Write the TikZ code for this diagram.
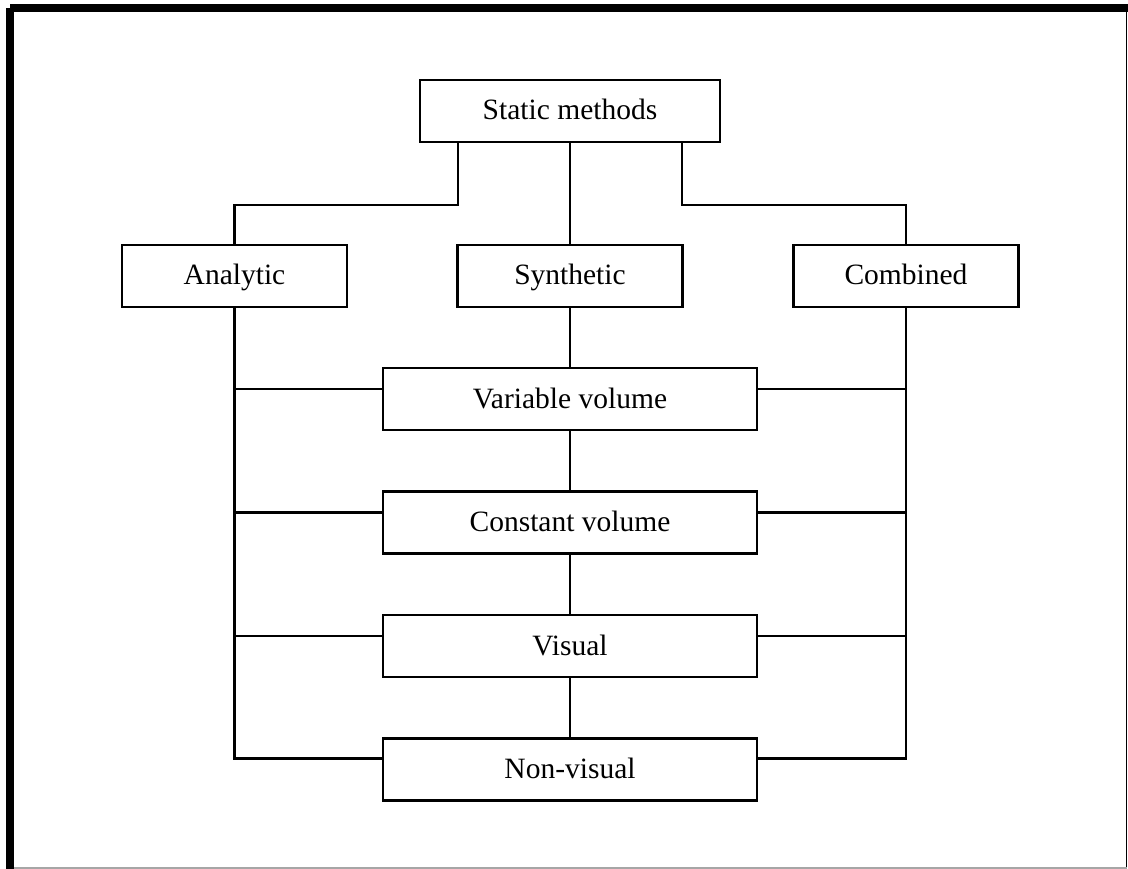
\documentclass[tikz,border=0pt]{standalone}
\usepackage{fontspec}
\setmainfont{Liberation Serif}
\usetikzlibrary{positioning}
\tikzset{
	methodbox/.style={draw, line width=2.2pt, inner sep=0pt, minimum height=62pt, text height=20pt, text depth=2pt, font=\fontsize{29.5}{34}\selectfont},
	topbox/.style={methodbox, minimum width=300pt},
	kindbox/.style={methodbox, minimum width=225pt},
	stagebox/.style={methodbox, minimum width=374pt},
	link/.style={line width=2.2pt}
}

\begin{document}
\begin{tikzpicture}[x=1pt, y=-1pt]
	\useasboundingbox (0,0) rectangle (1128,869);

	% frame
	\fill (6,8) rectangle (14,869);
	\fill (10,4) rectangle (1128,12);
	\draw[line width=1.6pt] (1126.5,12) -- (1126.5,869);
	\draw[gray!70, line width=1.6pt] (14,868) -- (1127,868);

	\node[topbox] (static) at (570,111) {Static methods};

	\node[kindbox] (analytic) at (234.5,276) {Analytic};
	\node[kindbox] (synthetic) at (570,276) {Synthetic};
	\node[kindbox] (combined) at (906,276) {Combined};

	\node[stagebox] (varvol) at (570,399) {Variable volume};
	\node[stagebox] (constvol) at (570,522.5) {Constant volume};
	\node[stagebox] (visual) at (570,646) {Visual};
	\node[stagebox] (nonvisual) at (570,769.5) {Non-visual};

	% branches of the top box
	\draw[link] ([xshift=-112pt]static.south) -- ++(0,62) -| (analytic.north);
	\draw[link] ([xshift=112pt]static.south) -- ++(0,62) -| (combined.north);
	\draw[link] (static) -- (synthetic);

	% middle column
	\draw[link] (synthetic) -- (varvol);
	\draw[link] (varvol) -- (constvol);
	\draw[link] (constvol) -- (visual);
	\draw[link] (visual) -- (nonvisual);

	% side columns
	\draw[link] (analytic.south) |- ([yshift=11pt]nonvisual.west);
	\draw[link] (combined.south) |- ([yshift=11pt]nonvisual.east);
	\foreach \stage in {varvol, constvol, visual} {
		\draw[link] ([yshift=10pt]\stage.west) -- ([yshift=10pt]\stage.west -| analytic.south);
		\draw[link] ([yshift=10pt]\stage.east) -- ([yshift=10pt]\stage.east -| combined.south);
	}

\end{tikzpicture}
\end{document}
